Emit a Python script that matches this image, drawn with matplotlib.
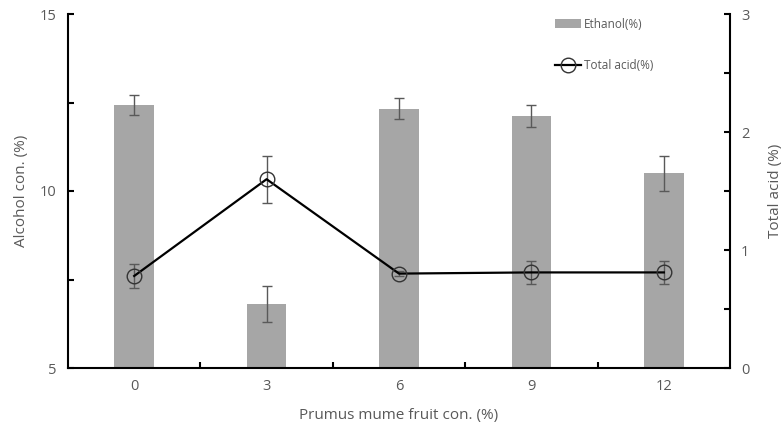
import matplotlib.pyplot as plt
import numpy as np

# data
fruit_con = ['0', '3', '6', '9', '12']
ethanol = [12.43, 6.81, 12.32, 12.12, 10.5]
ethanol_err = [0.29, 0.5, 0.3, 0.3, 0.5]
total_acid = [0.78, 1.60, 0.80, 0.81, 0.81]
total_acid_err = [0.1, 0.2, 0.02, 0.1, 0.1]

plt.rcParams['font.family'] = ['Open Sans', 'DejaVu Sans']
txt = '#595959'

fig = plt.figure(figsize=(7.81, 4.34), dpi=100)
ax = fig.add_axes([68 / 781, 66 / 434, 662 / 781, 354 / 434])
x = np.arange(len(fruit_con))

bars = ax.bar(x, ethanol, width=0.30, color='#a6a6a6', zorder=2, label='Ethanol(%)',
              yerr=ethanol_err, error_kw=dict(ecolor='#595959', elinewidth=1, capsize=3.5, capthick=1))
ax.set_xlim(-0.5, 4.5)
ax.set_ylim(5, 15)
ax.set_yticks([5, 10, 15])
ax.set_yticks([7.5, 12.5], minor=True)
ax.set_xticks(x)
ax.set_xticks(x[:-1] + 0.5, minor=True)
ax.set_xticklabels(fruit_con)
ax.spines['top'].set_visible(False)
ax.spines['right'].set_visible(False)
for s in ['left', 'bottom']:
    ax.spines[s].set_linewidth(1.5)
ax.tick_params(which='both', direction='in', length=4, width=1.5, labelsize=10.5,
               labelcolor=txt, pad=8)
ax.set_ylabel('Alcohol con. (%)', color=txt, fontsize=11, labelpad=8)
ax.set_xlabel('Prumus mume fruit con. (%)', color=txt, fontsize=11, labelpad=10)

ax2 = ax.twinx()
ax2.errorbar(x, total_acid, yerr=total_acid_err, fmt='none', ecolor='#595959',
             elinewidth=1, capsize=3.5, capthick=1, zorder=3)
line, = ax2.plot(x, total_acid, color='black', lw=1.6, marker='o', markersize=10.5,
                 markerfacecolor='none', markeredgecolor='#333333', markeredgewidth=1,
                 label='Total acid(%)', zorder=4)
ax2.set_ylim(0, 3)
ax2.set_yticks([0, 1, 2, 3])
ax2.set_yticks([0.5, 1.5, 2.5], minor=True)
for s in ['top', 'left', 'bottom']:
    ax2.spines[s].set_visible(False)
ax2.spines['right'].set_linewidth(1.5)
ax2.tick_params(which='both', direction='in', length=4, width=1.5, labelsize=10.5,
                labelcolor=txt, pad=8)
ax2.set_ylabel('Total acid (%)', color=txt, fontsize=11, labelpad=13)

leg = ax2.legend([bars, line], ['Ethanol(%)', 'Total acid(%)'], loc='upper left',
                 bbox_to_anchor=(0.72, 1.02), frameon=False, fontsize=8.5,
                 labelspacing=2.4, handlelength=2.2, handletextpad=0.2)
for t in leg.get_texts():
    t.set_color(txt)

fig.savefig('out.png', dpi=100)
